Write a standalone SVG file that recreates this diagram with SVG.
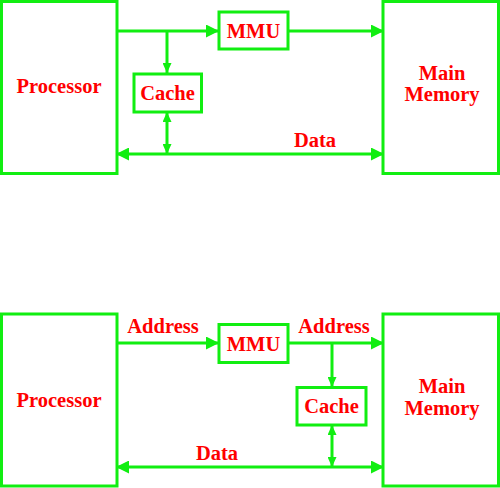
<svg xmlns="http://www.w3.org/2000/svg" width="500" height="488" viewBox="0 0 500 488">
<defs>
<style>
.box{fill:#fff;stroke:#11ee11;stroke-width:3}
.ln{fill:none;stroke:#11ee11;stroke-width:3}
.t{font-family:"Liberation Serif","Times New Roman",serif;font-weight:bold;font-size:20.5px;fill:#ff0000;text-anchor:middle}
</style>
<marker id="ah" viewBox="0 0 13 13" refX="12" refY="6.5" markerWidth="13" markerHeight="13" markerUnits="userSpaceOnUse" orient="auto-start-reverse"><path d="M0,0 L13,6.5 L0,13 z" fill="#11ee11"/></marker>
<marker id="as" viewBox="0 0 10 9" refX="10" refY="4.5" markerWidth="10" markerHeight="9" markerUnits="userSpaceOnUse" orient="auto-start-reverse"><path d="M0,0 L10,4.5 L0,9 z" fill="#11ee11"/></marker>
</defs>
<g id="connectors">
<path class="ln" d="M117,31 H218" marker-end="url(#ah)"/>
<path class="ln" d="M288,31 H383" marker-end="url(#ah)"/>
<path class="ln" d="M167,31 V73" marker-end="url(#as)"/>
<path class="ln" d="M167,112 V154" marker-start="url(#as)" marker-end="url(#as)"/>
<path class="ln" d="M117,154 H383" marker-start="url(#ah)" marker-end="url(#ah)"/>
<text class="t" x="315" y="147">Data</text>
<path class="ln" d="M117,343 H218" marker-end="url(#ah)"/>
<path class="ln" d="M288,343 H383" marker-end="url(#ah)"/>
<path class="ln" d="M332,343 V387" marker-end="url(#as)"/>
<path class="ln" d="M332,425 V467" marker-start="url(#as)" marker-end="url(#as)"/>
<path class="ln" d="M117,467 H383" marker-start="url(#ah)" marker-end="url(#ah)"/>
<text class="t" x="163" y="333">Address</text>
<text class="t" x="334" y="333">Address</text>
<text class="t" x="217" y="460">Data</text>
</g>
<g id="processor1"><rect class="box" x="1.5" y="1.5" width="115.5" height="172"/><text class="t" x="59" y="93">Processor</text></g>
<g id="mmu1"><rect class="box" x="219" y="12" width="69" height="37"/><text class="t" x="253.5" y="38">MMU</text></g>
<g id="cache1"><rect class="box" x="134" y="74" width="67.5" height="38"/><text class="t" x="167.5" y="100">Cache</text></g>
<g id="memory1"><rect class="box" x="383" y="1.5" width="115.5" height="172"/><text class="t" x="442" y="80">Main</text><text class="t" x="442" y="101">Memory</text></g>
<g id="processor2"><rect class="box" x="1.5" y="314" width="115.5" height="172"/><text class="t" x="59" y="407">Processor</text></g>
<g id="mmu2"><rect class="box" x="219" y="324.5" width="69" height="38"/><text class="t" x="253.5" y="351">MMU</text></g>
<g id="cache2"><rect class="box" x="297" y="387.5" width="69" height="37.5"/><text class="t" x="331.5" y="413">Cache</text></g>
<g id="memory2"><rect class="box" x="383" y="314" width="115.5" height="172"/><text class="t" x="442" y="393">Main</text><text class="t" x="442" y="415">Memory</text></g>
</svg>
